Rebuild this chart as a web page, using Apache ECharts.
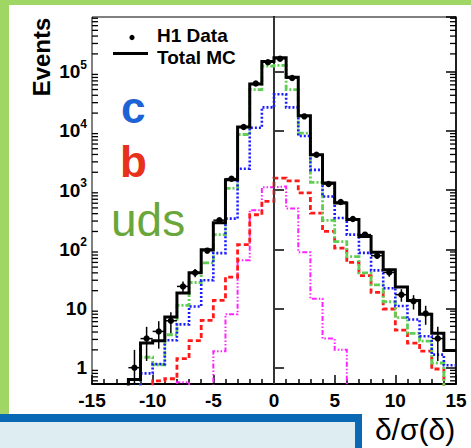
<!DOCTYPE html>
<html>
<head>
<meta charset="utf-8">
<script src="https://cdn.jsdelivr.net/npm/echarts@6/dist/echarts.min.js"></script>
<style>
  html, body { margin: 0; padding: 0; background: #fff; }
  #chart { width: 471px; height: 448px; }
</style>
</head>
<body>
<div id="chart"></div>
<script>
// Histogram bin edges (unit-width bins in delta/sigma(delta))
const binEdges = [-12, -11, -10, -9, -8, -7, -6, -5, -4, -3, -2, -1, 0, 1, 2, 3, 4, 5, 6, 7, 8, 9, 10, 11, 12, 13, 14, 15];

// Simulated contributions per bin (null = empty bin)
const totalMC = [0.63, 2.6, 2.86, 7.2, 18.3, 40, 98, 282, 1500, 11600, 62000, 149000, 172000, 81000, 18000, 3960, 1320, 606, 320, 165, 89, 45, 23, 13.7, 8.0, 3.8, 1.96];
const charm   = [0.2, 0.8, 1.15, 2.9, 5.4, 10.8, 30, 86, 330, 2300, 11300, 25000, 41500, 25000, 8200, 2200, 780, 337, 177, 87, 44, 22, 11, 6.5, 3.4, 1.66, 1.1];
const light   = [0.4, 1.5, 1.12, 3.6, 11.3, 27.5, 59, 177, 1070, 8700, 50000, 124000, 128000, 50000, 9200, 1350, 308, 135, 75, 40, 25, 13, 7, 3.8, 2.8, 1.2, 0.4];
const beauty  = [0.05, 0.25, 0.6, 0.65, 1.42, 2.86, 6.3, 13.7, 34, 120, 383, 647, 1590, 1430, 900, 408, 200, 105, 60, 36, 18.7, 9.8, 4.3, 2.6, 1.9, 0.95, 0.45];
const magentaComp = [null, null, null, null, 0.57, null, null, 1.9, 8, 65, 455, 1120, 1150, 490, 89, 14.6, 3.1, 2.0, null, null, null, null, null, null, null, null, null];

// Measured data points
const dataCentres = [-11.5, -10.5, -9.5, -8.5, -7.5, -6.5, -5.5, -4.5, -3.5, -2.5, -1.5, -0.5, 0.5, 1.5, 2.5, 3.5, 4.5, 5.5, 6.5, 7.5, 8.5, 9.5, 10.5, 11.5, 12.5, 13.5];
const dataValues  = [1, 3.1, 4.1, 6.2, 23.6, 40, 95, 310, 1560, 11600, 63000, 145000, 166000, 78000, 17600, 3960, 1270, 628, 325, 177, 78, 40.7, 17.1, 13.2, 8.2, 3.1];
const dataErrors  = [1, 1.8, 2, 2.4, 4.9, 6.3, 9.7, 17.6, 39, 108, 250, 380, 410, 280, 133, 63, 36, 25, 18, 13.3, 8.8, 6.4, 4.1, 3.6, 2.9, 1.8];

// Axis ranges and tick labels
const xMin = -15, xMax = 15, xStep = 5;
const xTickLabels = ['-15', '-10', '-5', '0', '5', '10', '15'];
const yMin = 0.53, yMax = 8.4e5;

const FONT = '"Liberation Sans", Arial, Helvetica, sans-serif';
const FLOOR = 1e-3; // empty bins are drawn below the visible range

function steps(vals) {
  const pts = [[binEdges[0], FLOOR]];
  vals.forEach((v, i) => {
    const y = (v == null || v <= 0) ? FLOOR : v;
    pts.push([binEdges[i], y], [binEdges[i + 1], y]);
  });
  return pts;
}

function histSeries(name, vals, color, width, dash, z) {
  return {
    name, type: 'line', data: steps(vals), symbol: 'none', showSymbol: false,
    clip: true, z, silent: true, animation: false,
    lineStyle: { color, width, type: dash, cap: 'butt', join: 'miter' }
  };
}

// minor ticks at 2..9 x 10^n on both vertical axes
const minorTickVals = [];
for (let d = -1; d <= 5; d++) {
  for (let k = 2; k <= 9; k++) {
    const v = k * Math.pow(10, d);
    if (v > yMin && v < yMax) minorTickVals.push([xMin, v]);
  }
}

const chart = echarts.init(document.getElementById('chart'), null, { renderer: 'svg', width: 471, height: 448 });

const yAxisBase = {
  type: 'log', logBase: 10, min: yMin, max: yMax,
  splitLine: { show: false },
  axisLine: { show: true, lineStyle: { color: '#000', width: 2 } },
  axisTick: { show: true, inside: true, length: 10, lineStyle: { color: '#000', width: 1.5 } },
  minorTick: { show: false }
};

chart.setOption({
  animation: false,
  backgroundColor: '#fff',
  grid: { left: 92, top: 17, width: 364, height: 367, show: true, borderColor: '#000', borderWidth: 1, backgroundColor: 'transparent' },
  xAxis: {
    type: 'value', min: xMin, max: xMax, interval: xStep,
    splitLine: { show: false },
    axisLine: { show: true, onZero: false, lineStyle: { color: '#000', width: 2 } },
    axisTick: { show: true, inside: true, length: 9, lineStyle: { color: '#000', width: 1.5 } },
    minorTick: { show: true, splitNumber: 5, length: 5, lineStyle: { color: '#000', width: 1.5 } },
    axisLabel: {
      margin: 7, color: '#000', fontFamily: FONT, fontWeight: 'bold', fontSize: 19, lineHeight: 19,
      formatter: v => xTickLabels[Math.round((v - xMin) / xStep)]
    }
  },
  yAxis: [
    Object.assign({}, yAxisBase, {
      position: 'left',
      axisLabel: {
        margin: 5, showMinLabel: false, showMaxLabel: false,
        formatter: v => {
          const e = Math.round(Math.log10(v));
          if (e === 0) return '{m|1}';
          if (e === 1) return '{m|10}';
          return '{m|10}{s|' + e + '}';
        },
        rich: {
          m: { fontSize: 19, fontWeight: 'bold', fontFamily: FONT, color: '#000', lineHeight: 26 },
          s: { fontSize: 12, fontWeight: 'bold', fontFamily: FONT, color: '#000', lineHeight: 12, verticalAlign: 'top' }
        }
      }
    }),
    Object.assign({}, yAxisBase, {
      position: 'right',
      axisLine: { show: true, lineStyle: { color: '#000', width: 1.5 } },
      axisLabel: { show: false }
    })
  ],
  series: [
    {
      type: 'custom', name: 'minorTicks', data: minorTickVals, silent: true, z: 20,
      renderItem: (params, api) => {
        const v = api.value(1);
        const l = api.coord([xMin, v]);
        const r = api.coord([xMax, v]);
        return {
          type: 'group', children: [
            { type: 'line', shape: { x1: l[0], y1: l[1], x2: l[0] + 6, y2: l[1] }, style: { stroke: '#000', lineWidth: 1.3 } },
            { type: 'line', shape: { x1: r[0], y1: r[1], x2: r[0] - 6, y2: r[1] }, style: { stroke: '#000', lineWidth: 1.3 } }
          ]
        };
      }
    },
    histSeries('extra', magentaComp, '#ff22ff', 2, [5, 2, 1.5, 2, 1.5, 2], 3),
    histSeries('b', beauty, '#ff1a1a', 2.8, [5, 3], 4),
    histSeries('uds', light, '#5fce52', 2.8, [6, 2, 2, 2], 5),
    histSeries('c', charm, '#1a1aff', 2.6, [2, 2], 6),
    Object.assign(histSeries('Total MC', totalMC, '#000', 3, 'solid', 7), {
      markLine: {
        silent: true, symbol: ['none', 'none'], label: { show: false },
        lineStyle: { color: '#444', width: 1.5, type: 'solid' },
        data: [{ xAxis: 0 }]
      }
    }),
    {
      type: 'custom', name: 'H1 Data', clip: true, silent: true, z: 10,
      data: dataCentres.map((x, i) => [x, dataValues[i], dataErrors[i]]),
      renderItem: (params, api) => {
        const x = api.value(0), y = api.value(1), e = api.value(2);
        const c = api.coord([x, y]);
        const hi = api.coord([x, y + e]);
        const lo = api.coord([x, Math.max(y - e, FLOOR)]);
        const l = api.coord([x - 0.5, y]);
        const r = api.coord([x + 0.5, y]);
        return {
          type: 'group', children: [
            { type: 'line', shape: { x1: c[0], y1: hi[1], x2: c[0], y2: lo[1] }, style: { stroke: '#000', lineWidth: 1.5 } },
            { type: 'line', shape: { x1: l[0], y1: c[1], x2: r[0], y2: c[1] }, style: { stroke: '#000', lineWidth: 1.5 } },
            { type: 'circle', shape: { cx: c[0], cy: c[1], r: 3.2 }, style: { fill: '#000' } }
          ]
        };
      }
    }
  ],
  graphic: [
    // frame decoration
    { type: 'rect', z: -10, shape: { x: 0, y: 0, width: 9, height: 414 }, style: { fill: '#a0d664' } },
    { type: 'rect', z: -10, shape: { x: 0, y: 0, width: 471, height: 5 }, style: { fill: '#a0d664' } },
    { type: 'rect', z: -10, shape: { x: 0, y: 414, width: 362, height: 34 }, style: { fill: '#0a69b5' } },
    { type: 'rect', z: -9, shape: { x: 0, y: 422, width: 355, height: 26 }, style: { fill: '#ddedf2' } },
    // axis titles
    { type: 'text', x: 41, y: 57, rotation: Math.PI / 2,
      style: { text: 'Events', font: 'bold 24px ' + FONT, fill: '#000', align: 'center', verticalAlign: 'middle' } },
    { type: 'text', x: 415, y: 429,
      style: { text: 'δ/σ(δ)', font: '30px ' + FONT, lineHeight: 30, fill: '#000', align: 'center', verticalAlign: 'middle' } },
    // legend
    { type: 'circle', shape: { cx: 132, cy: 37.5, r: 2.6 }, style: { fill: '#000' }, z: 20 },
    { type: 'line', shape: { x1: 113, y1: 53.5, x2: 148, y2: 53.5 }, style: { stroke: '#000', lineWidth: 3 }, z: 20 },
    { type: 'text', x: 157, y: 35.5, z: 20,
      style: { text: 'H1 Data', font: 'bold 19px ' + FONT, lineHeight: 19, fill: '#000', align: 'left', verticalAlign: 'middle' } },
    { type: 'text', x: 157, y: 57, z: 20,
      style: { text: 'Total MC', font: 'bold 19px ' + FONT, lineHeight: 19, fill: '#000', align: 'left', verticalAlign: 'middle' } },
    // component labels
    { type: 'text', x: 121, y: 107, z: 20,
      style: { text: 'c', font: 'bold 44px ' + FONT, fill: '#1d63d6', align: 'left', verticalAlign: 'middle' } },
    { type: 'text', x: 120, y: 161, z: 20,
      style: { text: 'b', font: 'bold 44px ' + FONT, fill: '#e8311a', align: 'left', verticalAlign: 'middle' } },
    { type: 'text', x: 111, y: 220, z: 20,
      style: { text: 'uds', font: '46px ' + FONT, fill: '#6aa63a', align: 'left', verticalAlign: 'middle' } }
  ]
});
</script>
</body>
</html>
